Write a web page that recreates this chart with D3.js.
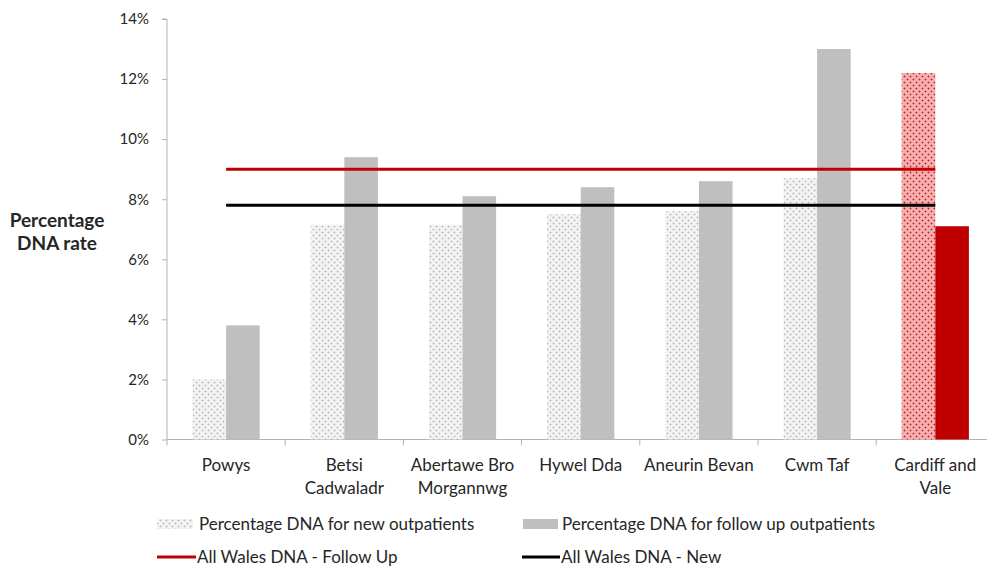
<!DOCTYPE html>
<html><head><meta charset="utf-8">
<script src="https://cdn.jsdelivr.net/npm/d3@7"></script>
<style>
body{margin:0;background:#fff;}
text{font-family:Lato,"Open Sans",sans-serif;fill:#262626;}
</style></head>
<body>
<svg id="c" width="987" height="566"></svg>
<script>
const categories = ["Powys","Betsi Cadwaladr","Abertawe Bro Morgannwg","Hywel Dda","Aneurin Bevan","Cwm Taf","Cardiff and Vale"];
const categoryLines = [["Powys"],["Betsi","Cadwaladr"],["Abertawe Bro","Morgannwg"],["Hywel Dda"],["Aneurin Bevan"],["Cwm Taf"],["Cardiff and","Vale"]];
const newRates = [2.0, 7.15, 7.15, 7.5, 7.6, 8.7, 12.2];
const followRates = [3.8, 9.4, 8.1, 8.4, 8.6, 13.0, 7.1];
const allWalesFollowUp = [9.0, 9.0, 9.0, 9.0, 9.0, 9.0, 9.0];
const allWalesNew = [7.8, 7.8, 7.8, 7.8, 7.8, 7.8, 7.8];
const yTicks = [0, 2, 4, 6, 8, 10, 12, 14];
const legendLabels = ["Percentage DNA for new outpatients","Percentage DNA for follow up outpatients","All Wales DNA - Follow Up","All Wales DNA - New"];
const highlight = "Cardiff and Vale";

const svg = d3.select("#c");
const defs = svg.append("defs");
function makePattern(id, bg, mid, dot){
  const p = defs.append("pattern").attr("id", id).attr("patternUnits","userSpaceOnUse")
    .attr("width",6).attr("height",6);
  p.append("rect").attr("width",6).attr("height",6).attr("fill",bg);
  [[1,1],[4,4]].forEach(([cx,cy])=>{
    [[0,-1],[0,1],[-1,0],[1,0]].forEach(([dx,dy])=>{
      p.append("rect").attr("x",(cx+dx+6)%6).attr("y",(cy+dy+6)%6).attr("width",1).attr("height",1).attr("fill",mid);
    });
    p.append("rect").attr("x",cx).attr("y",cy).attr("width",1).attr("height",1).attr("fill",dot);
  });
}
makePattern("patGray","#f3f3f3","#dadada","#bdbdbd");
makePattern("patRed","#f4b0b0","#e67a7a","#cc1a1a");

const x0 = 167, band = 118.2;
const x = d3.scaleBand().domain(categories).range([x0, x0 + band*7]).paddingInner(0).paddingOuter(0);
const y = d3.scaleLinear().domain([0,14]).range([439.5, 19]);
const barW = 33.6;

// axes
const axisColor = "#b3b3b3";
const yAxis = svg.append("g").attr("transform",`translate(${x0},0)`)
  .call(d3.axisLeft(y).tickValues(yTicks).tickSize(5).tickFormat(d=>d+"%"));
yAxis.select(".domain").attr("stroke",axisColor).attr("d",`M-5,${y(14)}H0V${y(0)}`);
yAxis.selectAll(".tick line").attr("stroke",axisColor);
yAxis.selectAll(".tick text").attr("x",-18).attr("font-size","15px").attr("fill","#3a3a3a")
  .style("font-family","Lato, sans-serif");

const xAxis = svg.append("g").attr("transform",`translate(0,${y(0)})`);
xAxis.append("line").attr("x1",x0).attr("x2",987).attr("y1",0).attr("y2",0).attr("stroke",axisColor);
const tickPos = categories.map(c=>x(c));
xAxis.selectAll("line.t").data(tickPos).join("line").attr("class","t")
  .attr("x1",d=>d).attr("x2",d=>d).attr("y1",0).attr("y2",6).attr("stroke",axisColor);

// bars
const g = svg.append("g");
categories.forEach((c,i)=>{
  const cx = x(c) + x.bandwidth()/2;
  const hl = c===highlight;
  g.append("rect").attr("x",cx-barW).attr("width",barW)
    .attr("y",y(newRates[i])).attr("height",y(0)-y(newRates[i]))
    .attr("fill", hl?"url(#patRed)":"url(#patGray)");
  g.append("rect").attr("x",cx).attr("width",barW)
    .attr("y",y(followRates[i])).attr("height",y(0)-y(followRates[i]))
    .attr("fill", hl?"#c00000":"#bfbfbf");
});

// lines
const line = d3.line().x((d,i)=>x(categories[i])+x.bandwidth()/2).y(d=>y(d));
svg.append("path").datum(allWalesFollowUp).attr("d",line).attr("fill","none").attr("stroke","#c00000").attr("stroke-width",3);
svg.append("path").datum(allWalesNew).attr("d",line).attr("fill","none").attr("stroke","#000").attr("stroke-width",3);

// category labels
categories.forEach((c,i)=>{
  const cx = x(c) + x.bandwidth()/2;
  const t = svg.append("text").attr("text-anchor","middle").attr("font-size","17px");
  categoryLines[i].forEach((l,j)=>{
    t.append("tspan").attr("x",cx).attr("y",471+j*23).text(l);
  });
});

// y title
const yt = svg.append("text").attr("text-anchor","middle").attr("font-size","19px").attr("font-weight","bold").attr("fill","#000");
yt.append("tspan").attr("x",57).attr("y",227).text("Percentage");
yt.append("tspan").attr("x",57).attr("y",250).text("DNA rate");

// legend
const lg = svg.append("g");
lg.append("rect").attr("x",157).attr("y",519).attr("width",36).attr("height",10).attr("fill","url(#patGray)");
lg.append("text").attr("x",199).attr("y",530).attr("font-size","17px").text(legendLabels[0]);
lg.append("rect").attr("x",523).attr("y",519).attr("width",35).attr("height",10).attr("fill","#bfbfbf");
lg.append("text").attr("x",562).attr("y",530).attr("font-size","17px").text(legendLabels[1]);
lg.append("line").attr("x1",157).attr("x2",196).attr("y1",557).attr("y2",557).attr("stroke","#c00000").attr("stroke-width",3);
lg.append("text").attr("x",197).attr("y",563).attr("font-size","17px").text(legendLabels[2]);
lg.append("line").attr("x1",522).attr("x2",560).attr("y1",557).attr("y2",557).attr("stroke","#000").attr("stroke-width",3);
lg.append("text").attr("x",561).attr("y",563).attr("font-size","17px").text(legendLabels[3]);
</script>
</body></html>
